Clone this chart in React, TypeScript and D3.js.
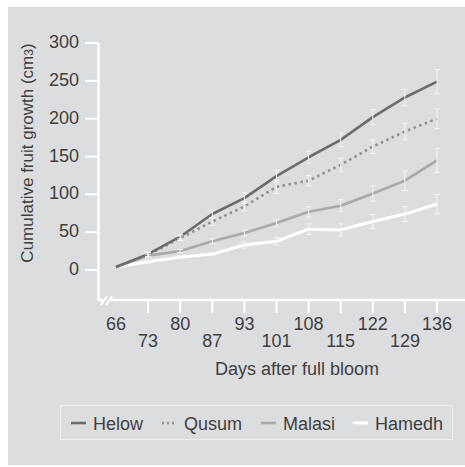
import React from 'react';
import * as d3 from 'd3';

// days after full bloom (x categories)
const days = [66, 73, 80, 87, 93, 101, 108, 115, 122, 129, 136];
const yTicks = [0, 50, 100, 150, 200, 250, 300];

// cumulative fruit growth (cm3)
const helow = [4, 21, 44, 74, 95, 124, 149, 172, 202, 228, 249];
const qusum = [4, 20, 42, 64, 84, 110, 118, 139, 163, 183, 200];
const malasi = [4, 19, 25, 38, 49, 62, 77, 85, 101, 118, 145];
const hamedh = [4, 11, 17, 21, 33, 38, 54, 53, 64, 74, 87];

// error bar half-heights
const helowErr = [0, 3, 3, 5, 7, 8, 8, 9, 10, 11, 16];
const qusumErr = [0, 3, 3, 5, 6, 9, 7, 9, 9, 11, 13];
const malasiErr = [0, 2, 2, 3, 4, 5, 7, 8, 10, 13, 16];
const hamedhErr = [0, 2, 2, 2, 4, 5, 7, 8, 9, 10, 13];

const seriesNames = ['Helow', 'Qusum', 'Malasi', 'Hamedh'];

const App: React.FC = () => {
    const W = 465;
    const H = 467;
    const font = "'Liberation Sans', Arial, sans-serif";
    const textColor = '#3f3f3f';
    const bg = '#dcdddf';

    const series = [
        { name: seriesNames[0], values: helow, err: helowErr, color: '#6c6c6c', dash: null, width: 2.6 },
        { name: seriesNames[1], values: qusum, err: qusumErr, color: '#909090', dash: '2.5,3.5', width: 2.6 },
        { name: seriesNames[2], values: malasi, err: malasiErr, color: '#a9a9a9', dash: null, width: 2.6 },
        { name: seriesNames[3], values: hamedh, err: hamedhErr, color: '#ffffff', dash: null, width: 3 },
    ];

    const x = d3.scalePoint<number>().domain(days).range([116, 437]);
    const y = d3.scaleLinear().domain([0, 300]).range([270, 43]);

    const line = d3.line<number>()
        .x((d, i) => x(days[i]) as number)
        .y((d) => y(d));

    const axisX = 98.5;
    const axisY = 300;

    // legend item offsets (layout only)
    const legendX = [71, 162, 261, 353];

    return (
        <svg width={W} height={H} style={{ position: 'absolute', left: 0, top: 0 }} fontFamily={font}>
            <rect x={8} y={7} width={W - 8} height={458} fill={bg} />

            {/* y axis with break */}
            <path d={`M${axisX},43 V${axisY} H103`} fill="none" stroke="#fff" strokeWidth={2.5} />
            <line x1={101} y1={305} x2={107} y2={296} stroke="#fff" strokeWidth={2} />
            <line x1={106} y1={305} x2={112} y2={296} stroke="#fff" strokeWidth={2} />
            <line x1={111} x2={W} y1={axisY} y2={axisY} stroke="#fff" strokeWidth={2.5} />

            {yTicks.map((t) => (
                <g key={t}>
                    <line x1={85} x2={axisX} y1={y(t)} y2={y(t)} stroke="#fff" strokeWidth={2} />
                    <text x={79} y={y(t) + 5} textAnchor="end" fontSize={18} fill={textColor}>{t}</text>
                </g>
            ))}

            {days.map((d, i) => (
                <g key={d}>
                    {i > 0 && (
                        <line x1={x(d)} x2={x(d)} y1={axisY} y2={313} stroke="#fff" strokeWidth={2} />
                    )}
                    <text x={x(d)} y={i % 2 === 0 ? 329.5 : 347} textAnchor="middle" fontSize={18} fill={textColor}>{d}</text>
                </g>
            ))}

            <text x={297} y={375} textAnchor="middle" fontSize={18} fill={textColor}>Days after full bloom</text>

            <text transform="translate(33,153) rotate(-90)" textAnchor="middle" fontSize={17} fill={textColor}>
                Cumulative fruit growth (cm<tspan fontSize={12}>3</tspan>)
            </text>

            {/* lines */}
            {series.slice().reverse().map((s) => (
                <path key={s.name} d={line(s.values) as string} fill="none" stroke={s.color}
                    strokeWidth={s.width} strokeDasharray={s.dash || undefined} strokeLinejoin="round" />
            ))}

            {/* error bars */}
            {series.map((s) => (
                <g key={s.name + 'err'} stroke="#f3f3f3" strokeWidth={1}>
                    {s.values.map((v, i) => s.err[i] > 0 && (
                        <g key={i}>
                            <line x1={x(days[i])} x2={x(days[i])} y1={y(v - s.err[i])} y2={y(v + s.err[i])} />
                            <line x1={(x(days[i]) as number) - 3} x2={(x(days[i]) as number) + 3} y1={y(v - s.err[i])} y2={y(v - s.err[i])} />
                            <line x1={(x(days[i]) as number) - 3} x2={(x(days[i]) as number) + 3} y1={y(v + s.err[i])} y2={y(v + s.err[i])} />
                        </g>
                    ))}
                </g>
            ))}

            {/* legend */}
            <rect x={60.5} y={405.5} width={392} height={34} fill="none" stroke="#eeeeee" strokeWidth={1} />
            {series.map((s, i) => (
                <g key={s.name + 'leg'}>
                    <line x1={legendX[i]} x2={legendX[i] + 15} y1={423} y2={423} stroke={s.color}
                        strokeWidth={s.width} strokeDasharray={s.dash ? '2,3' : undefined} />
                    <text x={legendX[i] + 22} y={429.5} fontSize={18} fill={textColor}>{s.name}</text>
                </g>
            ))}
        </svg>
    );
};

export default App;
